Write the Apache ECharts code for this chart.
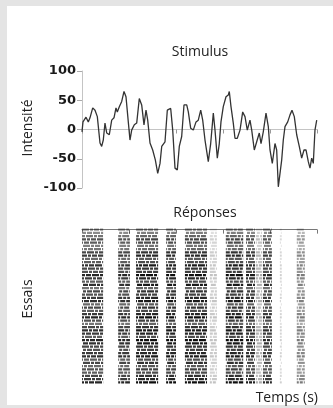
<!DOCTYPE html>
<html><head><meta charset="utf-8">
<script src="https://cdn.jsdelivr.net/npm/echarts@6/dist/echarts.min.js"></script>
<style>
html,body{margin:0;padding:0;background:#e4e4e4;}
#panel{position:absolute;left:7px;top:6px;width:326px;height:399px;background:#fff;}
#c{position:absolute;left:0;top:0;width:333px;height:408px;}
</style></head>
<body><div id="panel"></div><div id="c"></div>
<script>
// Stimulus trace: time (s) and intensity
const stimT = [0,0.021,0.085,0.134,0.170,0.228,0.277,0.326,0.383,0.419,0.453,0.489,0.526,0.581,0.632,0.681,0.723,0.751,0.794,0.845,0.894,0.936,0.985,1.021,1.057,1.113,1.164,1.219,1.270,1.319,1.362,1.398,1.447,1.504,1.560,1.611,1.660,1.696,1.766,1.815,1.887,1.930,1.979,2.028,2.070,2.121,2.170,2.228,2.262,2.313,2.368,2.426,2.474,2.526,2.568,2.617,2.687,2.738,2.794,2.830,2.879,2.921,2.957,3.006,3.064,3.113,3.134,3.170,3.219,3.255,3.304,3.362,3.419,3.468,3.517,3.574,3.611,3.666,3.717,3.772,3.809,3.857,3.915,3.964,4.000,4.049,4.106,4.142,4.177,4.213,4.249,4.283,4.319,4.377,4.426,4.468,4.517,4.568,4.623,4.674,4.723,4.766,4.815,4.851,4.887,4.921,4.957,4.994];
const stimV = [-4,13,21,13,20,37,33,22,-23,-29,-18,11,-6,-9,16,20,37,30,39,48,65,56,13,-18,-1,8,11,53,42,8,33,16,-23,-35,-52,-75,-58,-29,-21,33,36,-1,-66,-69,-29,-12,42,42,30,2,-1,13,16,33,16,-18,-55,-24,28,-1,-49,-24,13,39,56,59,65,39,11,-15,-15,-1,30,22,-1,16,-1,-35,-21,-6,-24,-4,28,5,-35,-58,-24,-35,-98,-98,-52,-18,5,13,25,33,22,-9,-29,-49,-35,-35,-55,-66,-49,-58,-1,16];
const yTicks = [-100,-50,0,50,100];

// Raster: burst windows (s) and their relative density
const burstStart = [0.00,0.77,1.15,1.79,2.19,2.72,3.06,3.49,3.70,3.85,4.21,4.57];
const burstEnd   = [0.45,1.02,1.62,2.00,2.66,2.87,3.43,3.68,3.83,4.04,4.25,4.74];
const burstDensity = [0.9,0.9,1.0,1.0,1.0,0.25,1.0,0.95,0.35,0.9,0.2,0.55];
// per-trial darkness
const trialLevel = [0.45,0.5,0.6,0.75,0.7,0.55,0.6,0.8,0.85,0.65,0.7,0.9,0.8,0.75,0.95,0.85,0.7,0.9,0.6,0.8,0.75,0.85,0.9,0.65,0.8,0.7,0.85,0.95,0.75,0.6,0.8,0.9,0.85,0.7,0.95,0.9,0.8,0.75,0.85,0.9,0.7,0.8,0.65,0.75,0.7,0.8,0.85,0.95];
const nTrials = trialLevel.length;

const stimData = stimT.map((t,i)=>[t,stimV[i]]);
const rasterData = [];
trialLevel.forEach((lv,tr)=>{
  burstStart.forEach((s,b)=>{
    rasterData.push([s, burstEnd[b], tr, lv*burstDensity[b]]);
  });
});

const chart = echarts.init(document.getElementById('c'), null, {renderer:'canvas'});
const labFont = {fontFamily:'Open Sans', fontSize:14, fill:'#222'};
chart.setOption({
  animation:false,
  grid:[
    {left:82, top:71, width:235, height:117},
    {left:82, top:228, width:235, height:156}
  ],
  xAxis:[
    {gridIndex:0, type:'value', min:0, max:5, interval:1,
     axisLine:{lineStyle:{color:'#c4c4c4'}}, axisTick:{length:4, lineStyle:{color:'#999'}},
     axisLabel:{show:false}, splitLine:{show:false}},
    {gridIndex:1, type:'value', min:0, max:5, interval:1,
     axisLine:{lineStyle:{color:'#777'}}, axisTick:{length:4, lineStyle:{color:'#777'}},
     axisLabel:{show:false}, splitLine:{show:false}}
  ],
  yAxis:[
    {gridIndex:0, type:'value', min:-100, max:100, interval:50,
     axisLine:{show:true, lineStyle:{color:'#c4c4c4'}},
     axisTick:{show:true, length:5, lineStyle:{color:'#aaa'}},
     axisLabel:{margin:6, fontFamily:'DejaVu Sans', fontWeight:'bold', fontSize:13, color:'#1a1a1a',
       formatter:v=> yTicks.includes(v) ? String(v) : ''},
     splitLine:{show:false}},
    {gridIndex:1, type:'value', min:-0.5, max:nTrials-0.5, inverse:true, show:false}
  ],
  series:[
    {type:'line', xAxisIndex:0, yAxisIndex:0, data:stimData, showSymbol:false,
     lineStyle:{color:'#333', width:1.3}},
    {type:'custom', xAxisIndex:1, yAxisIndex:1, data:rasterData,
     renderItem:(params, api)=>{
       const a = api.coord([api.value(0), api.value(2)]);
       const b = api.coord([api.value(1), api.value(2)]);
       const lv = api.value(3);
       const tr = api.value(2);
       return {type:'line', shape:{x1:a[0], y1:a[1], x2:b[0], y2:b[1]},
         style:{stroke:'rgba(0,0,0,'+lv.toFixed(2)+')', lineWidth:2.1,
                lineDash:[7,1,3,1,5,1], lineDashOffset:(tr*7)%18}};
     }}
  ],
  graphic:[
    {type:'text', x:200, y:52, style:Object.assign({text:'Stimulus', align:'center', verticalAlign:'middle'}, labFont)},
    {type:'text', x:205, y:213, style:Object.assign({text:'Réponses', align:'center', verticalAlign:'middle'}, labFont)},
    {type:'text', x:318, y:398, style:Object.assign({text:'Temps (s)', align:'right', verticalAlign:'middle'}, labFont)},
    {type:'text', x:28, y:128, rotation:Math.PI/2, style:Object.assign({text:'Intensité', align:'center', verticalAlign:'middle'}, labFont)},
    {type:'text', x:28, y:299, rotation:Math.PI/2, style:Object.assign({text:'Essais', align:'center', verticalAlign:'middle'}, labFont)}
  ]
});
</script></body></html>
